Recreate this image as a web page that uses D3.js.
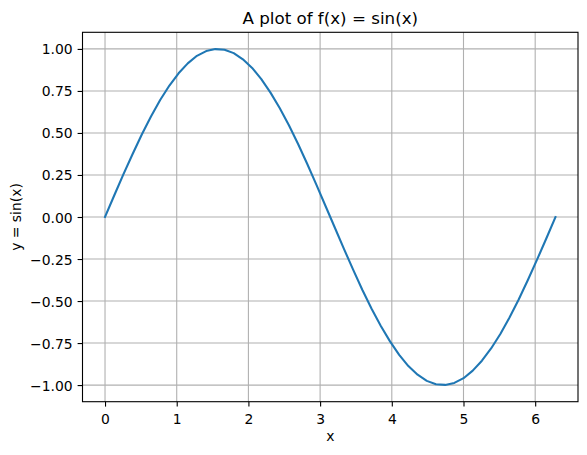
<!DOCTYPE html>
<html>
<head>
<meta charset="utf-8">
<script src="https://cdn.jsdelivr.net/npm/d3@7"></script>
<style>
  body { margin: 0; background: #fff; }
  svg { display: block; font-family: "DejaVu Sans", sans-serif; }
</style>
</head>
<body>
<svg id="chart"></svg>
<script>
var xValues = [
  0.000, 0.128, 0.256, 0.385, 0.513, 0.641, 0.769, 0.898, 1.026, 1.154,
  1.282, 1.411, 1.539, 1.667, 1.795, 1.923, 2.052, 2.180, 2.308, 2.436,
  2.565, 2.693, 2.821, 2.949, 3.077, 3.206, 3.334, 3.462, 3.590, 3.718,
  3.847, 3.975, 4.103, 4.231, 4.360, 4.488, 4.616, 4.744, 4.872, 5.001,
  5.129, 5.257, 5.385, 5.514, 5.642, 5.770, 5.898, 6.026, 6.155, 6.283
];
var yValues = [
  0.000, 0.128, 0.254, 0.375, 0.491, 0.598, 0.696, 0.782, 0.855, 0.914,
  0.959, 0.987, 0.999, 0.995, 0.975, 0.938, 0.887, 0.820, 0.740, 0.648,
  0.546, 0.434, 0.315, 0.191, 0.064, -0.064, -0.191, -0.315, -0.434, -0.546,
  -0.648, -0.740, -0.820, -0.887, -0.938, -0.975, -0.995, -0.999, -0.987, -0.959,
  -0.914, -0.855, -0.782, -0.696, -0.598, -0.491, -0.375, -0.254, -0.128, 0.000
];
var xTicks = [0, 1, 2, 3, 4, 5, 6];
var yTicks = [-1.0, -0.75, -0.5, -0.25, 0, 0.25, 0.5, 0.75, 1.0];

var W = 587, H = 455;
var box = { left: 82.5, right: 578, top: 32.3, bottom: 401.7 };

var svg = d3.select("#chart").attr("width", W).attr("height", H);

// matplotlib-style 5% margins around the data
var xr = d3.extent(xValues), yr = d3.extent(yValues);
var xpad = (xr[1] - xr[0]) * 0.05, ypad = (yr[1] - yr[0]) * 0.05;
var x = d3.scaleLinear().domain([xr[0] - xpad, xr[1] + xpad]).range([box.left, box.right]);
var y = d3.scaleLinear().domain([yr[0] - ypad, yr[1] + ypad]).range([box.bottom, box.top]);

var fontPx = 13.9;
var thin = 1.1; // 0.8pt

// grid
var grid = svg.append("g").attr("stroke", "#b0b0b0").attr("stroke-width", thin);
grid.selectAll(".gx").data(xTicks).enter().append("line")
  .attr("x1", d => x(d)).attr("x2", d => x(d))
  .attr("y1", box.top).attr("y2", box.bottom);
grid.selectAll(".gy").data(yTicks).enter().append("line")
  .attr("x1", box.left).attr("x2", box.right)
  .attr("y1", d => y(d)).attr("y2", d => y(d));

// the curve
var line = d3.line().x((d, i) => x(xValues[i])).y(d => y(d));
svg.append("path")
  .datum(yValues)
  .attr("d", line)
  .attr("fill", "none")
  .attr("stroke", "#1f77b4")
  .attr("stroke-width", 2.08)
  .attr("stroke-linejoin", "round")
  .attr("stroke-linecap", "square");

// axes
var xAxis = d3.axisBottom(x).tickValues(xTicks).tickSize(4.9).tickPadding(3).tickFormat(d3.format("d"));
var yAxis = d3.axisLeft(y).tickValues(yTicks).tickSize(4.9).tickPadding(3).tickFormat(d3.format(".2f"));

var gx = svg.append("g").attr("transform", `translate(0,${box.bottom})`).call(xAxis);
var gy = svg.append("g").attr("transform", `translate(${box.left},0)`).call(yAxis);

[gx, gy].forEach(function (g) {
  g.select(".domain").remove();
  g.selectAll(".tick line").attr("stroke", "#000").attr("stroke-width", thin);
  g.selectAll(".tick text")
    .attr("fill", "#000")
    .style("font-family", "DejaVu Sans")
    .style("font-size", fontPx + "px");
});
gx.selectAll(".tick text").attr("y", 22).attr("dy", 0);
gy.selectAll(".tick text").attr("x", -9.9).attr("dy", "0.36em");

// frame
svg.append("rect")
  .attr("x", box.left).attr("y", box.top)
  .attr("width", box.right - box.left).attr("height", box.bottom - box.top)
  .attr("fill", "none").attr("stroke", "#000").attr("stroke-width", thin);

// title and labels
svg.append("text")
  .attr("x", (box.left + box.right) / 2).attr("y", 24)
  .attr("text-anchor", "middle")
  .style("font-size", "16.7px")
  .text("A plot of f(x) = sin(x)");

svg.append("text")
  .attr("x", (box.left + box.right) / 2).attr("y", 441)
  .attr("text-anchor", "middle")
  .style("font-size", fontPx + "px")
  .text("x");

svg.append("text")
  .attr("transform", `translate(21,${(box.top + box.bottom) / 2}) rotate(-90)`)
  .attr("text-anchor", "middle")
  .style("font-size", fontPx + "px")
  .text("y = sin(x)");
</script>
</body>
</html>
